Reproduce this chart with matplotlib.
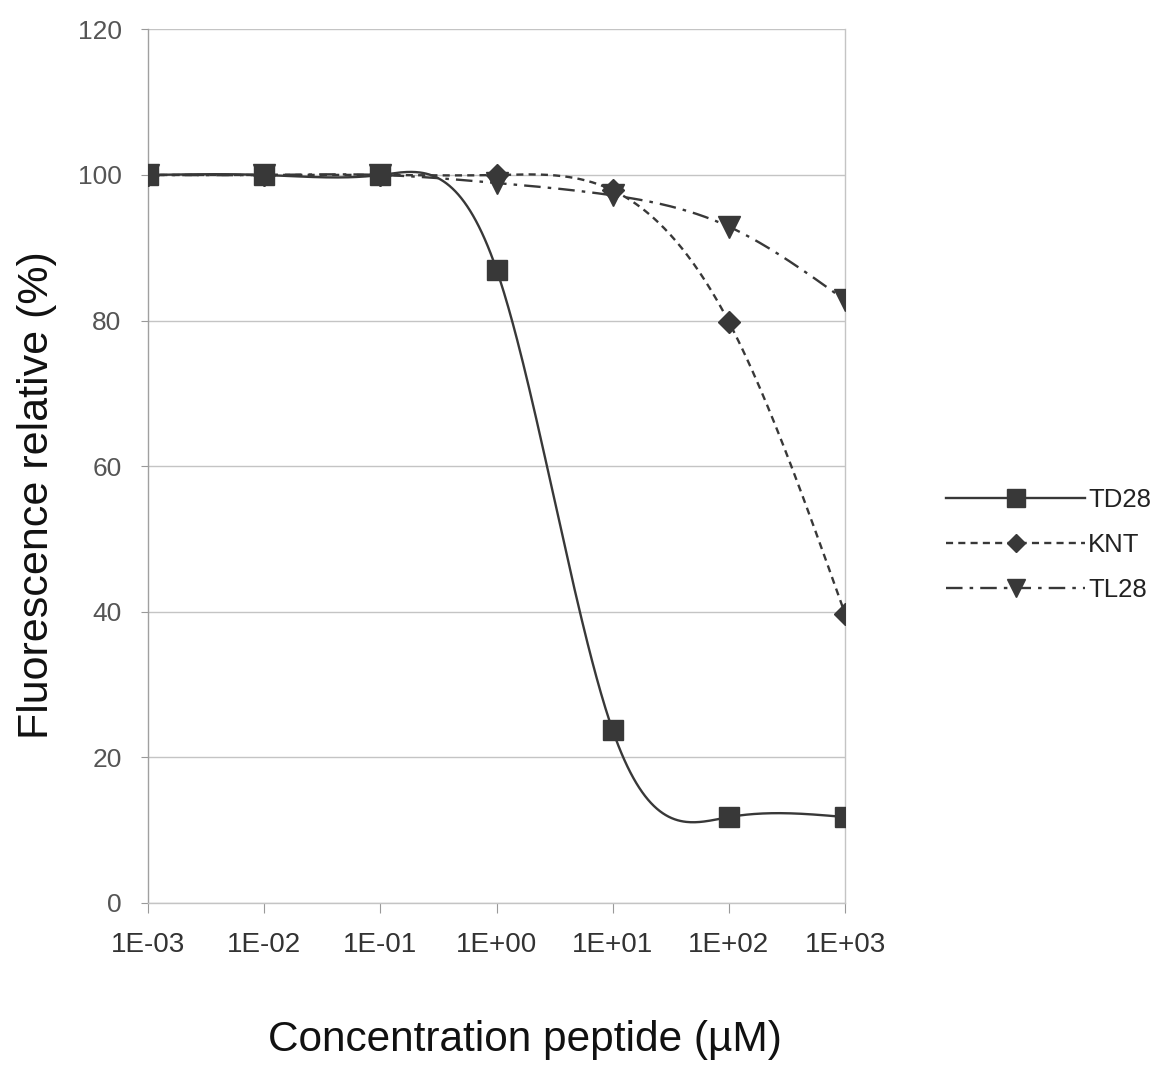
import numpy as np
import matplotlib
matplotlib.use("Agg")
import matplotlib.pyplot as plt
from matplotlib.lines import Line2D

categories = ["1E-03", "1E-02", "1E-01", "1E+00", "1E+01", "1E+02", "1E+03"]
td28 = [100, 100, 100, 87, 23.7, 11.8, 11.8]
knt = [100, 100, 100, 100, 97.9, 79.8, 39.7]
tl28 = [100, 100, 100, 98.9, 97.2, 92.9, 82.8]
yticks = [0, 20, 40, 60, 80, 100, 120]

REG = ["Liberation Sans", "DejaVu Sans"]


def natural_spline(y, n=80):
    """Natural cubic spline through the points, in category index space."""
    y = np.asarray(y, float)
    m = len(y)
    x = np.arange(m, dtype=float)
    h = np.diff(x)
    A = np.zeros((m, m))
    b = np.zeros(m)
    A[0, 0] = 1.0
    A[-1, -1] = 1.0
    for i in range(1, m - 1):
        A[i, i - 1] = h[i - 1]
        A[i, i] = 2 * (h[i - 1] + h[i])
        A[i, i + 1] = h[i]
        b[i] = 6 * ((y[i + 1] - y[i]) / h[i] - (y[i] - y[i - 1]) / h[i - 1])
    M = np.linalg.solve(A, b)
    xs_all, ys_all = [], []
    for i in range(m - 1):
        t = np.linspace(x[i], x[i + 1], n)
        a = x[i + 1] - t
        c = t - x[i]
        s = (M[i] * a ** 3 + M[i + 1] * c ** 3) / (6 * h[i]) \
            + (y[i] / h[i] - M[i] * h[i] / 6) * a \
            + (y[i + 1] / h[i] - M[i + 1] * h[i] / 6) * c
        if i > 0:
            t, s = t[1:], s[1:]
        xs_all.append(t)
        ys_all.append(s)
    return np.concatenate(xs_all), np.concatenate(ys_all)


fig = plt.figure(figsize=(11.58, 10.68), dpi=100)
ax = fig.add_axes([0.1278, 0.1545, 0.602, 0.818])

col = "#383838"
xi = np.arange(len(categories))

series = [
    ("TD28", td28, "-", "s", 15),
    ("KNT", knt, (0, (3, 2.2)), "D", 11),
    ("TL28", tl28, (0, (7, 3, 1.5, 3)), "v", 16),
]

handles = []
for name, vals, ls, mk, ms in series:
    sx, sy = natural_spline(vals)
    ax.plot(sx, sy, color=col, lw=1.7, linestyle=ls, zorder=3)
    ax.plot(xi, vals, linestyle="none", marker=mk, ms=ms, color=col,
            markeredgecolor=col, zorder=4)
    handles.append(Line2D([0], [0], color=col, lw=1.7, linestyle=ls, marker=mk,
                          ms=ms * 0.85, markeredgecolor=col))

ax.set_xlim(0, len(categories) - 1)
ax.set_ylim(0, 120)
ax.set_yticks(yticks)
ax.set_yticklabels([str(v) for v in yticks], family=REG, fontsize=19, color="#555555")
ax.set_xticks(xi)
ax.set_xticklabels(categories, family=REG, fontsize=20, color="#333333")
ax.yaxis.grid(True, color="#c4c4c4", lw=1.0)
ax.tick_params(axis="y", length=5, color="#999999", pad=14)
ax.tick_params(axis="x", length=7, color="#999999", pad=14)
ax.spines["top"].set_visible(False)
for s in ["left", "right", "bottom"]:
    ax.spines[s].set_color("#c4c4c4")
    ax.spines[s].set_linewidth(1.0)
ax.spines["left"].set_color("#a0a0a0")

ax.set_ylabel("Fluorescence relative (%)", family=REG, fontsize=31, color="#111111")
ax.yaxis.set_label_coords(-0.159, 0.467)
ax.set_xlabel("Concentration peptide (µM)", family=REG, fontsize=30.5, color="#111111")
ax.xaxis.set_label_coords(0.541, -0.157)
ax.xaxis.label.set_va("center")
ax.yaxis.label.set_va("center")

leg = fig.legend(handles, ["TD28", "KNT", "TL28"], loc="center left",
                 bbox_to_anchor=(0.806, 0.49), frameon=False, borderpad=0,
                 prop={"family": REG, "size": 18.5}, handlelength=5.4,
                 handletextpad=0.12, labelspacing=0.82)
for t in leg.get_texts():
    t.set_color("#222222")

fig.savefig("out.png", dpi=100)
